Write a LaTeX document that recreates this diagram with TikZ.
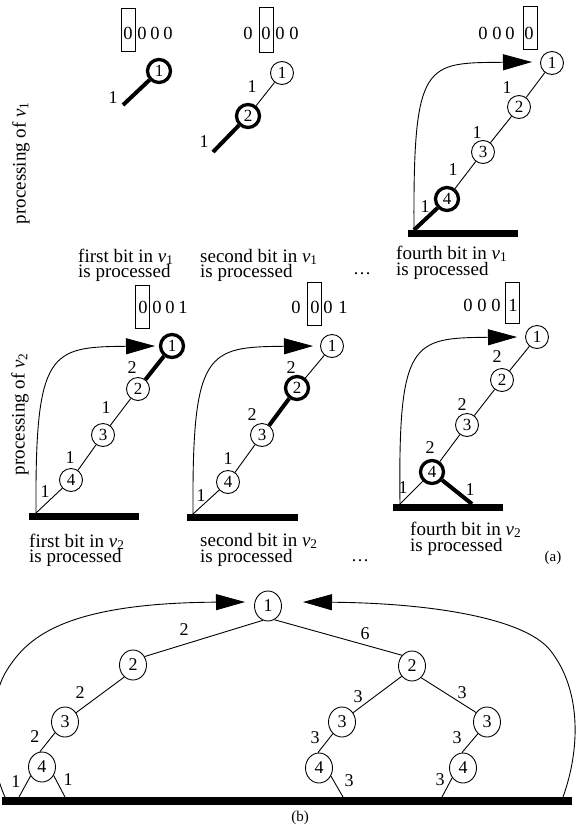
\documentclass[tikz,border=0pt]{standalone}
\usepackage{fontspec}
\setmainfont{Liberation Serif}
\usetikzlibrary{arrows.meta,shapes.geometric}
\newcommand{\vsub}[1]{\textit{v}\textsubscript{#1}}
\tikzset{
  cn/.style={circle, draw, line width=0.9pt, minimum size=23pt, inner sep=0pt, font=\fontsize{17}{17}\selectfont},
  cnt/.style={cn, line width=3.3pt},
  en/.style={ellipse, draw, line width=0.9pt, minimum width=27pt, minimum height=30pt, inner sep=0pt, font=\fontsize{18}{18}\selectfont},
  edge/.style={line width=0.9pt},
  tedge/.style={line width=4pt},
  bar/.style={line width=7pt},
  lab/.style={font=\fontsize{18}{18}\selectfont, inner sep=0pt},
  bit/.style={font=\fontsize{18.5}{18.5}\selectfont, inner sep=0pt},
  bitbox/.style={draw, line width=0.9pt, inner sep=0pt, minimum width=14pt},
  arr/.style={line width=0.9pt, -{Triangle[length=29pt,width=16pt]}},
  txt/.style={font=\fontsize{19}{19}\selectfont, inner sep=0pt, anchor=base west},
  side/.style={font=\fontsize{19}{19}\selectfont, inner sep=0pt, rotate=90},
  tag/.style={font=\fontsize{15}{15}\selectfont, inner sep=0pt, anchor=base}
}
\begin{document}
\begin{tikzpicture}[x=1pt,y=-1pt]
\useasboundingbox (0,0) rectangle (579,825);

% ---------- side labels ----------
\node[side] (s1) at (21,163) {processing of \vsub{1}};
\node[side] (s2) at (20,414) {processing of \vsub{2}};

% ---------- row 1, panel 1 ----------
\node[bitbox, minimum height=43pt] (a1box) at (128,29.5) {};
\node[bit] (a1b1) at (128,33) {0};
\node[bit] (a1b2) at (142,33) {0};
\node[bit] (a1b3) at (155,33) {0};
\node[bit] (a1b4) at (168,33) {0};
\node[cnt] (a1n1) at (159,71) {1};
\coordinate (a1e) at (123,105);
\draw[tedge] (a1e) -- (a1n1);
\node[lab] (a1l1) at (113,98) {1};
\node[txt] (a1t1) at (78,262) {first bit in \vsub{1}};
\node[txt] (a1t2) at (78,277) {is processed};

% ---------- row 1, panel 2 ----------
\node[bitbox, minimum height=45pt] (a2box) at (266,29.5) {};
\node[bit] (a2b1) at (248,33) {0};
\node[bit] (a2b2) at (266,33) {0};
\node[bit] (a2b3) at (280,33) {0};
\node[bit] (a2b4) at (294,33) {0};
\node[cn] (a2n1) at (282,73) {1};
\node[cnt] (a2n2) at (248,116) {2};
\draw[edge] (a2n1) -- (a2n2);
\coordinate (a2e) at (213,152);
\draw[tedge] (a2e) -- (a2n2);
\node[lab] (a2l1) at (252,87) {1};
\node[lab] (a2l2) at (204,142) {1};
\node[txt] (a2t1) at (200,262) {second bit in \vsub{1}};
\node[txt] (a2t2) at (200,277) {is processed};
\node[tag, font=\fontsize{18}{18}\selectfont] (a2d) at (362,274) {\dots};

% ---------- row 1, panel 3 ----------
\node[bitbox, minimum height=43pt] (a3box) at (530,27.5) {};
\node[bit] (a3b1) at (483,33) {0};
\node[bit] (a3b2) at (497,33) {0};
\node[bit] (a3b3) at (510,33) {0};
\node[bit] (a3b4) at (529,33) {0};
\node[cn] (a3n1) at (552,63) {1};
\node[cn] (a3n2) at (519,107) {2};
\node[cn] (a3n3) at (483,152) {3};
\node[cnt] (a3n4) at (447,199) {4};
\coordinate (a3bl) at (408,233);
\coordinate (a3br) at (518,233);
\draw[bar] (a3bl) -- (a3br);
\coordinate (a3s) at (414,230);
\coordinate (a3tip) at (532,62);
\draw[edge] (a3n1) -- (a3n2);
\draw[edge] (a3n2) -- (a3n3);
\draw[edge] (a3n3) -- (a3n4);
\draw[tedge] (a3s) -- (a3n4);
\draw[arr] (a3s) .. controls (413,60) and (425,63) .. (a3tip);
\node[lab] (a3l1) at (507,88) {1};
\node[lab] (a3l2) at (477,133) {1};
\node[lab] (a3l3) at (453,170) {1};
\node[lab] (a3l4) at (425,207) {1};
\node[txt] (a3t1) at (396,259) {fourth bit in \vsub{1}};
\node[txt] (a3t2) at (396,275) {is processed};

% ---------- row 2, panel 1 ----------
\node[bitbox, minimum height=43pt] (b1box) at (142.5,306.5) {};
\node[bit] (b1b1) at (143,307) {0};
\node[bit] (b1b2) at (157,307) {0};
\node[bit] (b1b3) at (170,307) {0};
\node[bit] (b1b4) at (183,307) {1};
\node[cnt] (b1n1) at (172,346) {1};
\node[cn] (b1n2) at (138,389) {2};
\node[cn] (b1n3) at (103,435) {3};
\node[cn] (b1n4) at (71,480) {4};
\coordinate (b1bl) at (29,516.5);
\coordinate (b1br) at (139,516.5);
\draw[bar] (b1bl) -- (b1br);
\coordinate (b1s) at (36,513);
\coordinate (b1tip) at (155,346);
\draw[tedge] (b1n1) -- (b1n2);
\draw[edge] (b1n2) -- (b1n3);
\draw[edge] (b1n3) -- (b1n4);
\draw[edge] (b1n4) -- (b1s);
\draw[arr] (b1s) .. controls (35,350) and (50,347) .. (b1tip);
\node[lab] (b1l1) at (132,368) {2};
\node[lab] (b1l2) at (106,408) {1};
\node[lab] (b1l3) at (70,458) {1};
\node[lab] (b1l4) at (45,492) {1};
\node[txt] (b1t1) at (29,547) {first bit in \vsub{2}};
\node[txt] (b1t2) at (29,562) {is processed};

% ---------- row 2, panel 2 ----------
\node[bitbox, minimum height=43pt] (b2box) at (314.5,303.5) {};
\node[bit] (b2b1) at (296,307) {0};
\node[bit] (b2b2) at (315,307) {0};
\node[bit] (b2b3) at (328,307) {0};
\node[bit] (b2b4) at (343,307) {1};
\node[cn] (b2n1) at (332,346) {1};
\node[cnt] (b2n2) at (297,388) {2};
\node[cn] (b2n3) at (262,435) {3};
\node[cn] (b2n4) at (228,482) {4};
\coordinate (b2bl) at (187,517);
\coordinate (b2br) at (298,517);
\draw[bar] (b2bl) -- (b2br);
\coordinate (b2s) at (193,514);
\coordinate (b2tip) at (313,346);
\draw[edge] (b2n1) -- (b2n2);
\draw[tedge] (b2n2) -- (b2n3);
\draw[edge] (b2n3) -- (b2n4);
\draw[edge] (b2n4) -- (b2s);
\draw[arr] (b2s) .. controls (192,350) and (207,347) .. (b2tip);
\node[lab] (b2l1) at (291,368) {2};
\node[lab] (b2l2) at (252,415) {2};
\node[lab] (b2l3) at (228,459) {1};
\node[lab] (b2l4) at (201,496) {1};
\node[txt] (b2t1) at (200,546) {second bit in \vsub{2}};
\node[txt] (b2t2) at (200,562) {is processed};
\node[tag, font=\fontsize{18}{18}\selectfont] (b2d) at (360,561) {\dots};

% ---------- row 2, panel 3 ----------
\node[bitbox, minimum height=41pt] (b3box) at (512.5,302.5) {};
\node[bit] (b3b1) at (468,305) {0};
\node[bit] (b3b2) at (482,305) {0};
\node[bit] (b3b3) at (496,305) {0};
\node[bit] (b3b4) at (513,305) {1};
\node[cn] (b3n1) at (537,337) {1};
\node[cn] (b3n2) at (502,380) {2};
\node[cn] (b3n3) at (467,425) {3};
\node[cnt] (b3n4) at (432,472) {4};
\coordinate (b3bl) at (393,507);
\coordinate (b3br) at (503,507);
\draw[bar] (b3bl) -- (b3br);
\coordinate (b3s) at (400,504);
\coordinate (b3e) at (472,504);
\coordinate (b3tip) at (517,337);
\draw[edge] (b3n1) -- (b3n2);
\draw[edge] (b3n2) -- (b3n3);
\draw[edge] (b3n3) -- (b3n4);
\draw[edge] (b3n4) -- (b3s);
\draw[tedge] (b3n4) -- (b3e);
\draw[arr] (b3s) .. controls (398,340) and (412,338) .. (b3tip);
\node[lab] (b3l1) at (497,357) {2};
\node[lab] (b3l2) at (462,405) {2};
\node[lab] (b3l3) at (430,448) {2};
\node[lab] (b3l4) at (403,488) {1};
\node[lab] (b3l5) at (470,490) {1};
\node[txt] (b3t1) at (410,535) {fourth bit in \vsub{2}};
\node[txt] (b3t2) at (410,551) {is processed};
\node[tag] (taga) at (553,561) {(a)};

% ---------- part (b) ----------
\node[en] (c1) at (268,606) {1};
\node[en] (c2l) at (133,665) {2};
\node[en] (c3l) at (65,722) {3};
\node[en] (c4l) at (42,767) {4};
\node[en] (c2r) at (412,666) {2};
\node[en] (c3m) at (342,722) {3};
\node[en] (c4m) at (319,768) {4};
\node[en] (c3r) at (487,722) {3};
\node[en] (c4r) at (463,768) {4};
\coordinate (cbl) at (2,801);
\coordinate (cbr) at (572,801);
\draw[bar, line width=8pt] (cbl) -- (cbr);
\coordinate (cf1) at (19,797);
\coordinate (cf2) at (65,797);
\coordinate (cf3) at (343,797);
\coordinate (cf4) at (442,797);
\coordinate (cls) at (5,797);
\coordinate (clm) at (7,670);
\coordinate (clt) at (245,602);
\coordinate (crs) at (563,797);
\coordinate (crm) at (550,650);
\coordinate (crt) at (303,602);
\draw[edge] (c1.-110) -- (c2l.36);
\draw[edge] (c1.-65) -- (c2r.133);
\draw[edge] (c2l.-126) -- (c3l.40);
\draw[edge] (c3l.-133) -- (c4l.98);
\draw[edge] (c4l.-142) -- (cf1);
\draw[edge] (c4l.-36) -- (cf2);
\draw[edge] (c2r.-135) -- (c3m.40);
\draw[edge] (c2r.-52) -- (c3r.139);
\draw[edge] (c3m.-128) -- (c4m.94);
\draw[edge] (c4m.-34) -- (cf3);
\draw[edge] (c3r.-128) -- (c4r.94);
\draw[edge] (c4r.-138) -- (cf4);
\draw[arr] (cls) .. controls (-12,760) and (-12,700) .. (clm) .. controls (26,640) and (60,603) .. (clt);
\draw[arr] (crs) .. controls (580,750) and (582,690) .. (crm) .. controls (524,618) and (430,603) .. (crt);
\node[lab] (cl1) at (184,630) {2};
\node[lab] (cl2) at (365,634) {6};
\node[lab] (cl3) at (80,693) {2};
\node[lab] (cl4) at (35,737) {2};
\node[lab] (cl5) at (16,782) {1};
\node[lab] (cl6) at (68,780) {1};
\node[lab] (cl7) at (358,697) {3};
\node[lab] (cl8) at (462,693) {3};
\node[lab] (cl9) at (315,738) {3};
\node[lab] (cl10) at (457,738) {3};
\node[lab] (cl11) at (349,781) {3};
\node[lab] (cl12) at (440,780) {3};
\node[tag] (tagb) at (300,821) {(b)};
\end{tikzpicture}
\end{document}
